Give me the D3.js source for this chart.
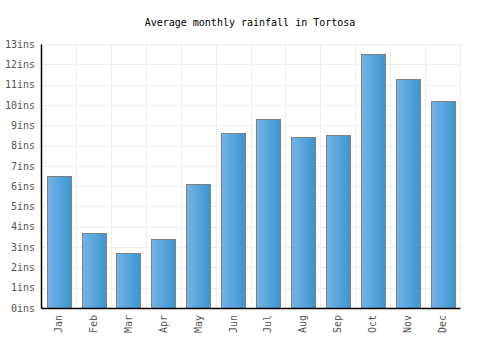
<!DOCTYPE html>
<html><head><meta charset="utf-8">
<script src="https://cdn.jsdelivr.net/npm/d3@7"></script>
<style>body{margin:0;background:#fff}</style>
</head><body>
<svg id="c" width="500" height="350"></svg>
<script>
const months = ["Jan","Feb","Mar","Apr","May","Jun","Jul","Aug","Sep","Oct","Nov","Dec"];
const rainfall = [6.5,3.7,2.7,3.4,6.1,8.6,9.3,8.4,8.5,12.5,11.3,10.2];
const yTicks = [0,1,2,3,4,5,6,7,8,9,10,11,12,13];
const title = "Average monthly rainfall in Tortosa";
const unit = "ins";

const svg = d3.select("#c");
const m = {l:41, r:40, t:44, b:42};
const W = 500, H = 350;
const x = d3.scaleBand().domain(months).range([m.l, W - m.r]).paddingInner(0.32).paddingOuter(0.16);
const y = d3.scaleLinear().domain([0,13]).range([H - m.b, m.t]);
const font = "'DejaVu Sans Mono', monospace";

const defs = svg.append("defs");
const g = defs.append("linearGradient").attr("id","bg").attr("x1","0").attr("x2","1").attr("y1","0").attr("y2","0");
g.append("stop").attr("offset","0%").attr("stop-color","#74b4e8");
g.append("stop").attr("offset","100%").attr("stop-color","#3a96cf");

svg.append("text").attr("x",250).attr("y",26).attr("text-anchor","middle")
  .attr("font-family",font).attr("font-size",10).attr("fill","#000").text(title);

// grid
const bandStep = (W - m.r - m.l) / months.length;
svg.append("g").selectAll("line").data(yTicks).join("line")
  .attr("x1", m.l).attr("x2", W - m.r).attr("y1", d => Math.round(y(d))+0.5).attr("y2", d => Math.round(y(d))+0.5)
  .attr("stroke","#eeeeee");
svg.append("g").selectAll("line").data(d3.range(1, months.length+1)).join("line")
  .attr("x1", i => Math.round(m.l + i*bandStep)+0.5).attr("x2", i => Math.round(m.l + i*bandStep)+0.5)
  .attr("y1", m.t).attr("y2", H - m.b).attr("stroke","#eeeeee");

// bars
svg.append("g").selectAll("rect").data(rainfall).join("rect")
  .attr("x", (d,i) => Math.round(x(months[i]))+0.5)
  .attr("width", Math.round(x.bandwidth()))
  .attr("y", d => Math.round(y(d))+0.5)
  .attr("height", d => Math.round(y(0)) - Math.round(y(d)))
  .attr("fill","url(#bg)").attr("stroke","#808080").attr("stroke-width",1);

// y axis
const ya = svg.append("g").attr("transform",`translate(${m.l},0)`)
  .call(d3.axisLeft(y).tickValues(yTicks).tickSize(0).tickPadding(6).tickFormat(d => d + unit));
ya.select(".domain").attr("stroke","#000").attr("stroke-width",1.5);
ya.selectAll("text").attr("font-family",font).attr("font-size",10).attr("fill","#555");

// x axis
const xa = svg.append("g").attr("transform",`translate(0,${H - m.b})`)
  .call(d3.axisBottom(x).tickSize(0).tickPadding(0));
xa.select(".domain").attr("stroke","#000").attr("stroke-width",1.5);
xa.selectAll("text").attr("font-family",font).attr("font-size",10).attr("fill","#555")
  .attr("transform","rotate(-90)").attr("text-anchor","end").attr("x",-7).attr("y",0).attr("dy","0.35em");
</script>
</body></html>
